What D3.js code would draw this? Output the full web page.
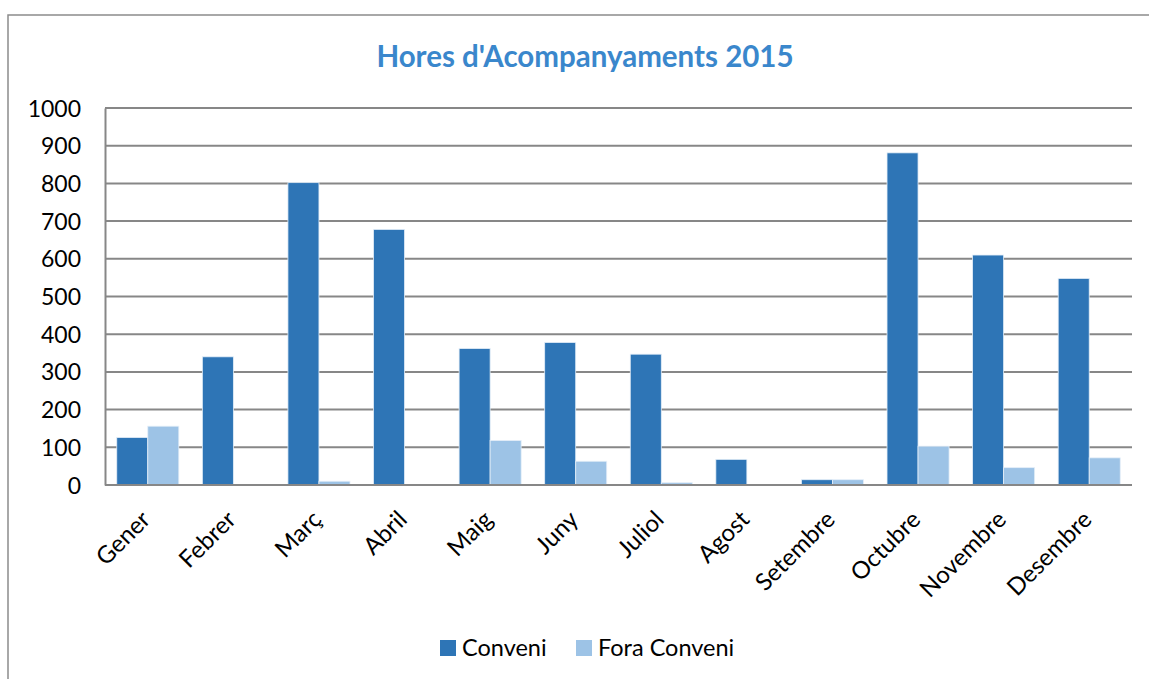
<!DOCTYPE html>
<html>
<head>
<meta charset="utf-8">
<script src="https://cdn.jsdelivr.net/npm/d3@7/dist/d3.min.js"></script>
<style>
  body { margin: 0; background: #fff; }
  text { font-family: Lato, "Open Sans", sans-serif; fill: #000; }
</style>
</head>
<body>
<script>
// months and the two series (hours)
var months = ["Gener", "Febrer", "Març", "Abril", "Maig", "Juny", "Juliol", "Agost", "Setembre", "Octubre", "Novembre", "Desembre"];
var conveni = [126, 340, 802, 678, 362, 378, 347, 68, 14, 881, 610, 548];
var foraConveni = [156, 0, 10, 0, 118, 63, 6, 0, 14, 103, 46, 72];
var seriesNames = ["Conveni", "Fora Conveni"];
var seriesColors = ["#2E75B6", "#9DC3E6"];
var yTicks = [0, 100, 200, 300, 400, 500, 600, 700, 800, 900, 1000];

var w = 1149, h = 679;
var svg = d3.select("body").append("svg")
    .attr("width", w)
    .attr("height", h);

// outer chart border (runs off right and bottom)
svg.append("rect")
    .attr("x", 8).attr("y", 15)
    .attr("width", 1160).attr("height", 700)
    .style("fill", "none")
    .style("stroke", "#8c8c8c")
    .style("stroke-width", 1.5);

// title
svg.append("text")
    .attr("x", 585).attr("y", 67)
    .attr("text-anchor", "middle")
    .style("font-size", "29.5px")
    .style("font-weight", "bold")
    .style("fill", "#3A87CC")
    .text("Hores d'Acompanyaments 2015");

var plotLeft = 105, plotRight = 1132, plotTop = 108, plotBottom = 485;

var x = d3.scaleBand()
    .domain(months)
    .range([plotLeft, plotRight])
    .paddingInner(0.275)
    .paddingOuter(0.1375);

var x1 = d3.scaleBand()
    .domain(seriesNames)
    .range([0, x.bandwidth()]);

var y = d3.scaleLinear()
    .domain([0, 1000])
    .range([plotBottom, plotTop]);

// gridlines
svg.append("g")
    .selectAll("line")
    .data(yTicks)
    .enter()
    .append("line")
    .attr("x1", plotLeft).attr("x2", plotRight)
    .attr("y1", function(d){ return y(d); })
    .attr("y2", function(d){ return y(d); })
    .style("stroke", "#878787")
    .style("stroke-width", 2);

// y axis
var yAxis = d3.axisLeft(y).tickValues(yTicks).tickFormat(d3.format("d")).tickSize(0).tickPadding(24);
var gy = svg.append("g")
    .attr("transform", "translate(" + plotLeft + ",0)")
    .call(yAxis);
gy.select(".domain").style("stroke", "#878787").style("stroke-width", 2);
gy.selectAll("text")
    .style("font-family", "Lato, 'Open Sans', sans-serif")
    .style("font-size", "23px")
    .style("fill", "#000")
    .attr("dy", "0.35em");

// bars
var rows = months.map(function(m, i){ return {month: m, values: [conveni[i], foraConveni[i]]}; });
var groups = svg.append("g")
    .selectAll("g")
    .data(rows)
    .enter()
    .append("g")
    .attr("transform", function(d){ return "translate(" + x(d.month) + ",0)"; });

groups.selectAll("rect")
    .data(function(d){ return d.values.map(function(v, j){ return {name: seriesNames[j], value: v, j: j}; }); })
    .enter()
    .append("rect")
    .attr("x", function(d){ return x1(d.name); })
    .attr("width", x1.bandwidth())
    .attr("y", function(d){ return y(d.value); })
    .attr("height", function(d){ return plotBottom - y(d.value); })
    .style("fill", function(d){ return seriesColors[d.j]; })
    .style("stroke", "#e4eef8")
    .style("stroke-width", 0.8);

// x axis line
svg.append("line")
    .attr("x1", plotLeft).attr("x2", plotRight)
    .attr("y1", plotBottom).attr("y2", plotBottom)
    .style("stroke", "#878787")
    .style("stroke-width", 2);

// rotated month labels
svg.append("g")
    .selectAll("text")
    .data(months)
    .enter()
    .append("text")
    .attr("text-anchor", "end")
    .style("font-size", "24px")
    .attr("transform", function(d){
        var cx = x(d) + x.bandwidth() / 2 + 4;
        return "translate(" + cx + "," + (plotBottom + 36) + ") rotate(-45)";
    })
    .text(function(d){ return d; });

// legend
var legend = svg.append("g");
var legendX = [440, 576];
seriesNames.forEach(function(name, i){
    legend.append("rect")
        .attr("x", legendX[i]).attr("y", 640)
        .attr("width", 16).attr("height", 16)
        .style("fill", seriesColors[i]);
    legend.append("text")
        .attr("x", legendX[i] + 22).attr("y", 656)
        .style("font-size", "23.5px")
        .text(name);
});
</script>
</body>
</html>
